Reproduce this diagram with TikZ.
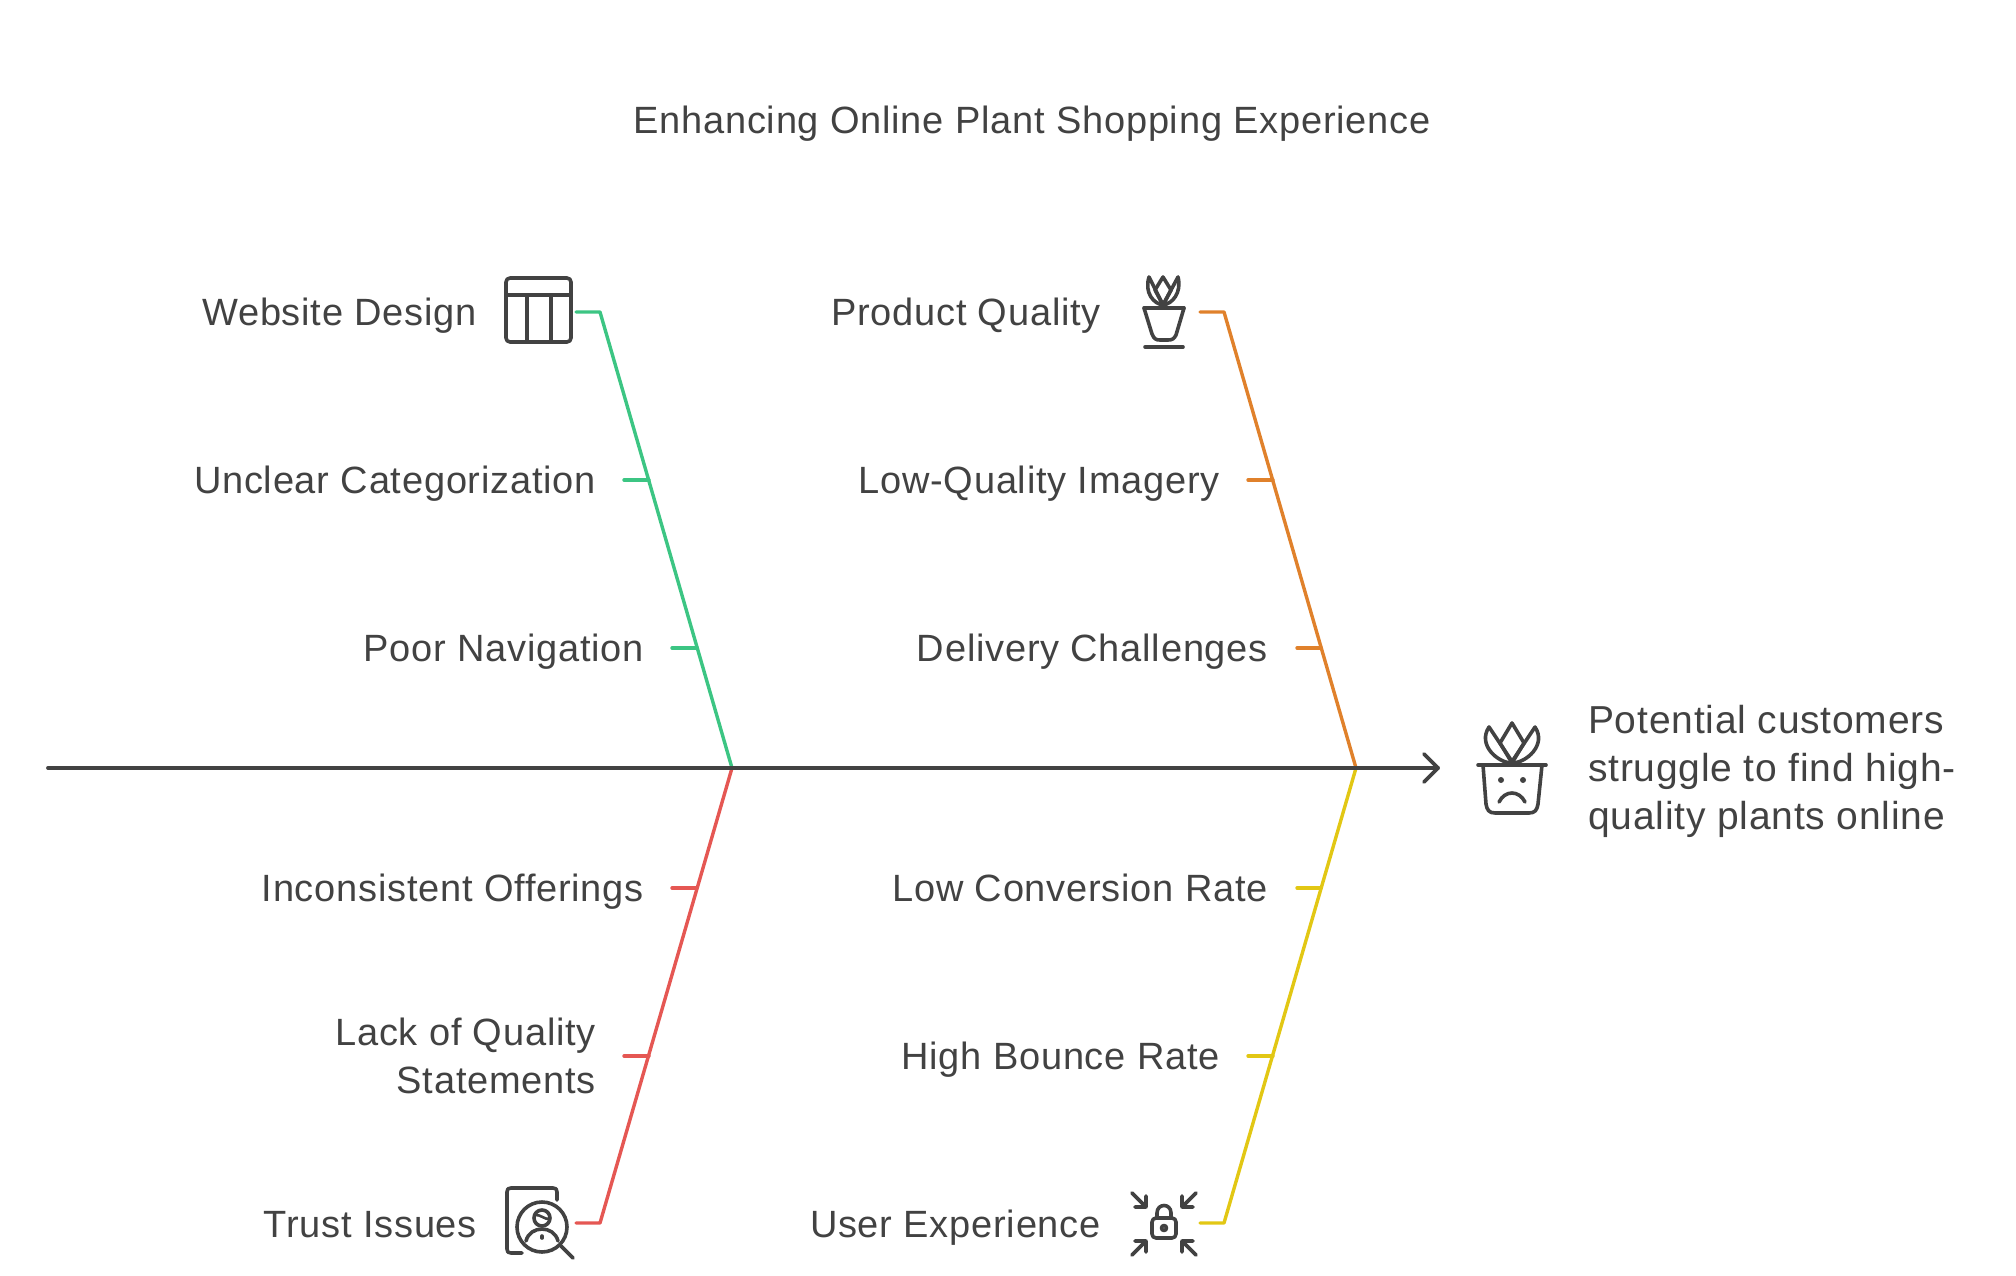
\documentclass[tikz,border=0pt]{standalone}
\usepackage{fontspec}
\setmainfont{Liberation Sans}[LetterSpace=2]
\definecolor{ink}{HTML}{424242}
\definecolor{cgreen}{HTML}{3CC583}
\definecolor{corange}{HTML}{E0812B}
\definecolor{cred}{HTML}{E55753}
\definecolor{cyellow}{HTML}{E2C714}
\tikzset{
  lbl/.style={inner sep=0pt,text=ink,font=\fontsize{38}{48}\selectfont,anchor=base east,align=right},
  lblL/.style={lbl,anchor=base west,align=left,font=\fontsize{39}{48}\selectfont},
  ttl/.style={lbl,anchor=base,align=center},
  bone/.style={line width=3.4pt,line cap=round,line join=round},
  icon/.style={draw=ink,line width=3.6pt,line cap=round,line join=round},
  spine/.style={draw=ink,line width=3.8pt,line cap=round,line join=round}
}
\begin{document}
\begin{tikzpicture}[x=1pt,y=-1pt]
\useasboundingbox (0,0) rectangle (2016,1276);
% joints
\coordinate (s0) at (48,768);
\coordinate (j1) at (732,768);
\coordinate (j2) at (1356,768);
\coordinate (tip) at (1438,768);
\coordinate (ga) at (576,312); \coordinate (gb) at (600,312);
\coordinate (oa) at (1200,312); \coordinate (ob) at (1224,312);
\coordinate (ra) at (576,1223); \coordinate (rb) at (600,1223);
\coordinate (ya) at (1200,1223); \coordinate (yb) at (1224,1223);
\foreach \n/\xa/\xb/\y in {g1/624/649/480,g2/672/697/648,o1/1248/1273/480,o2/1297/1321/648,r1/672/697/888,r2/624/649/1056,y1/1297/1321/888,y2/1248/1273/1056}{
  \coordinate (\n a) at (\xa,\y); \coordinate (\n b) at (\xb,\y);
}
% bones
\draw[bone,cgreen] (ga) -- (gb) -- (j1);
\draw[bone,cgreen] (g1a) -- (g1b);
\draw[bone,cgreen] (g2a) -- (g2b);
\draw[bone,corange] (oa) -- (ob) -- (j2);
\draw[bone,corange] (o1a) -- (o1b);
\draw[bone,corange] (o2a) -- (o2b);
\draw[bone,cred] (ra) -- (rb) -- (j1);
\draw[bone,cred] (r1a) -- (r1b);
\draw[bone,cred] (r2a) -- (r2b);
\draw[bone,cyellow] (ya) -- (yb) -- (j2);
\draw[bone,cyellow] (y1a) -- (y1b);
\draw[bone,cyellow] (y2a) -- (y2b);
% spine
\coordinate (h1) at (1424,754); \coordinate (h2) at (1424,782);
\draw[spine] (s0) -- (j1) -- (j2) -- (tip);
\draw[spine] (h1) -- (tip) -- (h2);
% labels
\node[ttl] (title) at (1032,134) {Enhancing Online Plant Shopping Experience};
\node[lbl] (t1) at (477,325) {Website Design};
\node[lbl] (t2) at (596,493) {Unclear Categorization};
\node[lbl] (t3) at (644,661) {Poor Navigation};
\node[lbl] (t4) at (1101,325) {Product Quality};
\node[lbl] (t5) at (1220,493) {Low-Quality Imagery};
\node[lbl] (t6) at (1268,661) {Delivery Challenges};
\node[lbl] (t7) at (644,901) {Inconsistent Offerings};
\node[lbl] (t8) at (596,1093) {Lack of Quality\\Statements};
\node[lbl] (t9) at (477,1237) {Trust Issues};
\node[lbl] (t10) at (1268,901) {Low Conversion Rate};
\node[lbl] (t11) at (1220,1069) {High Bounce Rate};
\node[lbl] (t12) at (1101,1237) {User Experience};
\node[lblL] (t13) at (1588,829) {Potential customers\\struggle to find high-\\quality plants online};
% table icon
\draw[icon,rounded corners=4pt] (506,278) rectangle (571,342);
\draw[icon] (506,295) -- (571,295) (527,295) -- (527,342) (551,295) -- (551,342);
% product pot icon
\draw[icon] (1144,308) -- (1184,308);
\draw[icon] (1144,308) -- (1152,334) .. controls (1154,339) and (1156,340) .. (1160,340) -- (1168,340) .. controls (1172,340) and (1174,339) .. (1176,335) -- (1184,308);
\draw[icon] (1145,347) -- (1183,347);
\draw[icon] (1163,305) .. controls (1154,304) and (1144,293) .. (1149,277) -- (1163,305);
\draw[icon] (1163,305) .. controls (1172,304) and (1182,293) .. (1178,277) -- (1163,305);
\draw[icon] (1163,277) -- (1155,290) -- (1163,305) -- (1171,290) -- cycle;
% effect pot icon
\draw[icon] (1478,765) -- (1546,765);
\draw[icon] (1483,765) -- (1486,804) .. controls (1487,810) and (1489,813) .. (1495,813) -- (1529,813) .. controls (1535,813) and (1537,810) .. (1538,804) -- (1542,765);
\draw[icon] (1512,763) .. controls (1498,763) and (1477,745) .. (1489,727) -- (1513,763);
\draw[icon] (1512,763) .. controls (1526,763) and (1547,745) .. (1535,727) -- (1511,763);
\draw[icon] (1512,723) -- (1500,743) -- (1512,763) -- (1524,743) -- cycle;
\fill[ink] (1501,780) circle (3pt) (1523,780) circle (3pt);
\draw[icon] (1499,802) .. controls (1505,790) and (1519,790) .. (1525,802);
% trust icon
\draw[icon] (522,1253) -- (511,1253) .. controls (508,1253) and (507,1252) .. (507,1249) -- (507,1192) .. controls (507,1189) and (508,1188) .. (511,1188) -- (553,1188) .. controls (556,1188) and (557,1189) .. (557,1192) -- (557,1200);
\draw[icon] (542,1227) circle (25pt);
\draw[icon] (561,1246) -- (573,1258);
\draw[icon] (542,1218) circle (8pt);
\draw[icon,line width=2.6pt] (535,1215) .. controls (540,1214) and (545,1220) .. (550,1219);
\draw[icon] (526,1241) .. controls (530,1225) and (554,1225) .. (558,1241);
\draw[icon] (542,1236) -- (542,1238);
% lock icon
\draw[icon,rounded corners=4pt] (1152,1218) rectangle (1176,1238);
\draw[icon] (1157,1218) -- (1157,1213) .. controls (1157,1203) and (1171,1203) .. (1171,1213) -- (1171,1218);
\draw[icon] (1164,1228) circle (2.5pt);
\draw[icon] (1132,1193) -- (1146,1207) (1146,1196) -- (1146,1207) -- (1135,1207);
\draw[icon] (1196,1193) -- (1182,1207) (1182,1196) -- (1182,1207) -- (1193,1207);
\draw[icon] (1132,1255) -- (1146,1241) (1135,1241) -- (1146,1241) -- (1146,1252);
\draw[icon] (1196,1255) -- (1182,1241) (1193,1241) -- (1182,1241) -- (1182,1252);
\end{tikzpicture}
\end{document}
